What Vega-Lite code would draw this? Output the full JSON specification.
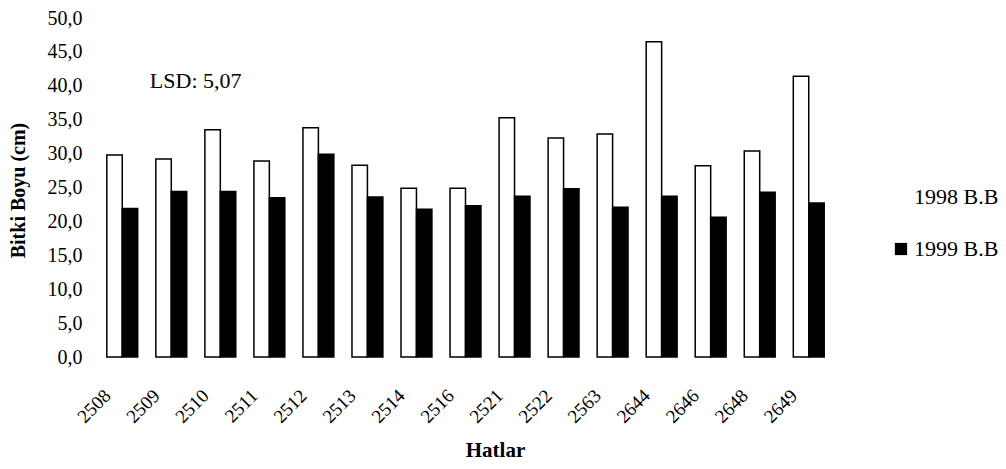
{
  "$schema": "https://vega.github.io/schema/vega-lite/v6.json",
  "width": 737,
  "height": 339,
  "autosize": {"type": "none"},
  "padding": {"left": 97, "top": 18, "right": 172, "bottom": 112},
  "background": "white",
  "config": {
    "view": {"stroke": null},
    "font": "Liberation Serif",
    "axis": {"labelFont": "Liberation Serif", "titleFont": "Liberation Serif", "labelColor": "black", "titleColor": "black"},
    "legend": {"labelFont": "Liberation Serif"}
  },
  "datasets": {
    "bars": [
      {"hat": "2508", "year": "1998 B.B", "v": 29.8},
      {"hat": "2508", "year": "1999 B.B", "v": 21.9},
      {"hat": "2509", "year": "1998 B.B", "v": 29.2},
      {"hat": "2509", "year": "1999 B.B", "v": 24.4},
      {"hat": "2510", "year": "1998 B.B", "v": 33.5},
      {"hat": "2510", "year": "1999 B.B", "v": 24.4},
      {"hat": "2511", "year": "1998 B.B", "v": 28.9},
      {"hat": "2511", "year": "1999 B.B", "v": 23.5},
      {"hat": "2512", "year": "1998 B.B", "v": 33.8},
      {"hat": "2512", "year": "1999 B.B", "v": 29.9},
      {"hat": "2513", "year": "1998 B.B", "v": 28.3},
      {"hat": "2513", "year": "1999 B.B", "v": 23.6},
      {"hat": "2514", "year": "1998 B.B", "v": 24.9},
      {"hat": "2514", "year": "1999 B.B", "v": 21.8},
      {"hat": "2516", "year": "1998 B.B", "v": 24.9},
      {"hat": "2516", "year": "1999 B.B", "v": 22.3},
      {"hat": "2521", "year": "1998 B.B", "v": 35.3},
      {"hat": "2521", "year": "1999 B.B", "v": 23.7},
      {"hat": "2522", "year": "1998 B.B", "v": 32.3},
      {"hat": "2522", "year": "1999 B.B", "v": 24.8},
      {"hat": "2563", "year": "1998 B.B", "v": 32.9},
      {"hat": "2563", "year": "1999 B.B", "v": 22.1},
      {"hat": "2644", "year": "1998 B.B", "v": 46.5},
      {"hat": "2644", "year": "1999 B.B", "v": 23.7},
      {"hat": "2646", "year": "1998 B.B", "v": 28.2},
      {"hat": "2646", "year": "1999 B.B", "v": 20.6},
      {"hat": "2648", "year": "1998 B.B", "v": 30.4},
      {"hat": "2648", "year": "1999 B.B", "v": 24.3},
      {"hat": "2649", "year": "1998 B.B", "v": 41.4},
      {"hat": "2649", "year": "1999 B.B", "v": 22.7}
    ],
    "note": [
      {"hat": "2509", "v": 40.7, "label": "LSD: 5,07"}
    ]
  },
  "encoding": {
    "y": {
      "field": "v", "type": "quantitative",
      "scale": {"domain": [0, 50], "nice": false},
      "axis": {
        "title": "Bitki Boyu (cm)", "titleFontSize": 20, "titleFontWeight": "bold",
        "titleX": -79, "titleY": 172, "titleAngle": -90, "titleBaseline": "middle",
        "values": [0, 5, 10, 15, 20, 25, 30, 35, 40, 45, 50],
        "tickCount": 11,
        "labelExpr": "replace(format(datum.value, '.1f'), '.', ',')",
        "labelFontSize": 20, "ticks": false, "domain": false, "grid": false,
        "labelPadding": 15, "labelOverlap": false
      }
    }
  },
  "layer": [
    {
      "data": {"name": "bars"},
      "mark": {"type": "bar", "stroke": "black", "strokeWidth": 1.5},
      "encoding": {
        "x": {
          "field": "hat", "type": "nominal", "sort": null,
          "scale": {"paddingInner": 0.37, "paddingOuter": 0.2},
          "axis": {
            "title": "Hatlar", "titleFontSize": 21, "titleFontWeight": "bold",
            "titleX": 398, "titleY": 93, "titleBaseline": "middle",
            "labelAngle": -45, "labelFontSize": 19, "ticks": false, "domain": false,
            "labelPadding": 29, "labelOffset": -21, "labelOverlap": false
          }
        },
        "xOffset": {"field": "year", "type": "nominal", "scale": {"paddingInner": 0}},
        "fill": {
          "field": "year", "type": "nominal",
          "scale": {"domain": ["1998 B.B", "1999 B.B"], "range": ["white", "black"]},
          "legend": {
            "title": null, "orient": "none", "legendX": 793, "legendY": 168,
            "symbolType": "square", "symbolSize": 150, "symbolStrokeWidth": 0,
            "labelFontSize": 22, "labelColor": "black", "rowPadding": 30, "labelOffset": 2
          }
        }
      }
    },
    {
      "data": {"name": "note"},
      "mark": {"type": "text", "align": "left", "baseline": "middle", "fontSize": 22, "font": "Liberation Serif", "color": "black", "dx": -6},
      "encoding": {
        "x": {
          "field": "hat", "type": "nominal", "bandPosition": 0, "sort": null,
          "axis": {
            "title": "Hatlar", "titleFontSize": 21, "titleFontWeight": "bold",
            "titleX": 398, "titleY": 93, "titleBaseline": "middle",
            "labelAngle": -45, "labelFontSize": 19, "ticks": false, "domain": false,
            "labelPadding": 29, "labelOffset": -21, "labelOverlap": false
          }
        },
        "text": {"field": "label"}
      }
    }
  ]
}
